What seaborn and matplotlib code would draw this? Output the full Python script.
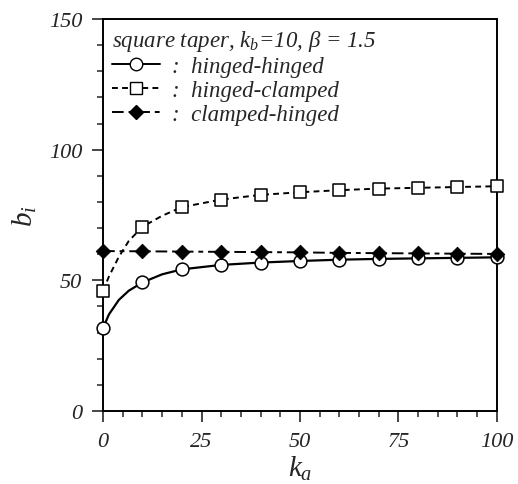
import matplotlib
matplotlib.use("Agg")
import matplotlib.pyplot as plt
from matplotlib.lines import Line2D
from matplotlib.ticker import MultipleLocator
import seaborn as sns
import pandas as pd

# curve read-off (denser near ka = 0 where the curves bend)
ka_curve = [0, 1.5, 4, 6.5, 10, 15, 20, 30, 40, 50, 60, 70, 80, 90, 100]
hh_curve = [31.8, 37.0, 42.5, 46.0, 49.2, 52.3, 54.2, 55.9, 56.8, 57.4, 57.9, 58.2, 58.4, 58.6, 58.8]
hc_curve = [46.0, 51.5, 59.0, 65.0, 70.5, 74.7, 78.0, 80.9, 82.7, 83.7, 84.5, 85.1, 85.4, 85.7, 86.0]

# marker points
ka_pts = [0, 10, 20, 30, 40, 50, 60, 70, 80, 90, 100]
hh_pts = [31.8, 49.2, 54.2, 55.9, 56.8, 57.4, 57.9, 58.2, 58.4, 58.6, 58.8]
hc_pts = [46.0, 70.5, 78.0, 80.9, 82.7, 83.7, 84.5, 85.1, 85.4, 85.7, 86.0]
ch_pts = [61.2, 61.1, 61.0, 60.9, 60.8, 60.7, 60.5, 60.4, 60.3, 60.2, 60.1]

labels = ["hinged-hinged", "hinged-clamped", "clamped-hinged"]

sns.set_style("ticks")
plt.rcParams["font.family"] = ["Liberation Serif", "DejaVu Serif"]
plt.rcParams["font.style"] = "italic"
plt.rcParams["mathtext.fontset"] = "custom"
plt.rcParams["mathtext.it"] = "Liberation Serif:italic"
plt.rcParams["mathtext.rm"] = "Liberation Serif:italic"

fig = plt.figure(figsize=(5.18, 4.85), dpi=100)
ax = fig.add_axes([0.199, 0.1505, 0.760, 0.8083])

curves = pd.DataFrame({"ka": ka_curve, "hh": hh_curve, "hc": hc_curve})
pts = pd.DataFrame({"ka": ka_pts, "hh": hh_pts, "hc": hc_pts, "ch": ch_pts})

hc_ls = (0, (3, 2.2))
ch_ls = (0, (6, 2.5, 2.5, 2.5))

sns.lineplot(data=curves, x="ka", y="hh", ax=ax, color="black", lw=1.6)
sns.lineplot(data=curves, x="ka", y="hc", ax=ax, color="black", lw=1.4, linestyle=hc_ls)
sns.lineplot(data=pts, x="ka", y="ch", ax=ax, color="black", lw=1.4, linestyle=ch_ls)

ms = 85
sns.scatterplot(data=pts, x="ka", y="hh", ax=ax, marker="o", s=ms, facecolor="white",
                edgecolor="black", linewidth=1.1, zorder=5, clip_on=False)
sns.scatterplot(data=pts, x="ka", y="hc", ax=ax, marker="s", s=ms, facecolor="white",
                edgecolor="black", linewidth=1.1, zorder=5, clip_on=False)
sns.scatterplot(data=pts, x="ka", y="ch", ax=ax, marker="D", s=55, color="black",
                edgecolor="black", zorder=6, clip_on=False)

ax.set_xlim(0, 100)
ax.set_ylim(0, 150)
ax.xaxis.set_major_locator(MultipleLocator(25))
ax.xaxis.set_minor_locator(MultipleLocator(5))
ax.yaxis.set_major_locator(MultipleLocator(50))
ax.yaxis.set_minor_locator(MultipleLocator(10))
ax.tick_params(which="major", direction="out", length=8, width=1.2, labelsize=16, pad=7)
ax.tick_params(which="minor", direction="out", length=4, width=1.1)
for s in ax.spines.values():
    s.set_linewidth(1.4)
    s.set_color("black")

ax.set_xlabel("$k_a$", fontsize=21, labelpad=2)
ax.set_ylabel("$b_i$", fontsize=21, labelpad=7)

handles = [
    Line2D([], [], color="black", lw=1.4, marker="o", mfc="white", mec="black", ms=9),
    Line2D([], [], color="black", lw=1.4, ls=hc_ls, marker="s", mfc="white",
           mec="black", ms=9),
    Line2D([], [], color="black", lw=1.4, ls=ch_ls, marker="D", mfc="black",
           mec="black", ms=7),
]
leg = ax.legend(handles, [":  " + l for l in labels], loc="upper left",
                title=r"square taper, $k_b$=10, $\beta$ = 1.5", alignment="left",
                frameon=False, fontsize=16.5, title_fontsize=16.5, handlelength=2.1,
                handletextpad=0.5, labelspacing=0.12, borderaxespad=0.2,
                borderpad=0.2)

fig.savefig("out.png", dpi=100)
